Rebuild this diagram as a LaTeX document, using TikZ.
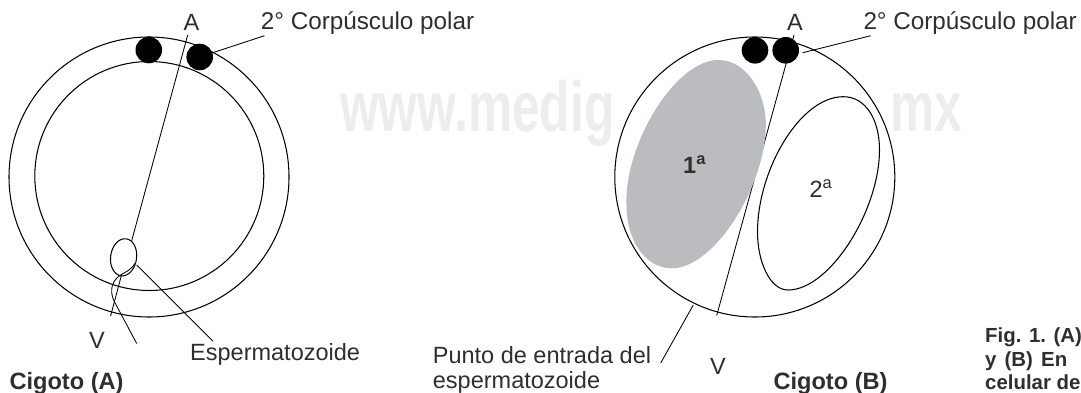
\documentclass[tikz,border=0pt]{standalone}
\usepackage{fontspec}
\setmainfont{Liberation Sans}
\definecolor{cellgray}{HTML}{BBBCBF}
\definecolor{inkgray}{HTML}{2E2E2E}
\tikzset{
  x=1pt,y=-1pt,
  outline/.style={draw=black,line width=1.05pt},
  wire/.style={draw=black,line width=0.85pt},
  polardot/.style={circle,fill=black,inner sep=0pt,minimum size=26.6pt},
  lab/.style={anchor=base west,inner sep=0pt,text=inkgray,font=\fontsize{23.5}{25}\selectfont},
  biglab/.style={lab,font=\fontsize{24.25}{26}\selectfont},
  boldlab/.style={anchor=base west,inner sep=0pt,text=inkgray,font=\bfseries\fontsize{23.6}{25}\selectfont},
  figlab/.style={anchor=base west,inner sep=0pt,text=inkgray,font=\bfseries\fontsize{20.4}{23}\selectfont},
  mark text/.style={anchor=base west,inner sep=0pt,text=black!7,font=\bfseries\fontsize{71}{71}\selectfont}
}
\begin{document}
\begin{tikzpicture}
\useasboundingbox (0,0) rectangle (1081,393);
% site lettering behind the drawings
\node[mark text] (wmA) at (340,131.7) {\scalebox{0.7}[1]{www.medig}};
\node[mark text] (wmB) at (890,131.7) {\scalebox{0.7}[1]{mx}};

% zygote A: membranes
\draw[outline,fill=white] (149,177) circle (140);
\draw[outline] (149.3,176) circle (114.5);
% zygote A: sperm head
\draw[outline,rotate around={-8:(123.6,257.3)}] (123.6,257.3) ellipse (13 and 18.7);
% zygote A: axis and tail
\coordinate (axA1) at (187.7,35);
\coordinate (axA2) at (131.7,240.7);
\coordinate (axA3) at (121.7,274.3);
\coordinate (axA4) at (110.6,316);
\draw[wire] (axA1) -- (axA2);
\draw[wire] (axA3) -- (axA4);
\coordinate (tailA) at (136.7,343.5);
\draw[wire] (135,263.3) .. controls (132,269) and (126,272) .. (axA3)
  .. controls (112,280) and (109,290) .. (114,301) -- (tailA);
\coordinate (headA) at (136.7,265);
\coordinate (espA) at (213,341.2);
\draw[wire] (headA) -- (espA);
% zygote A: polar bodies
\node[polardot] (p1A) at (148.8,50) {};
\node[polardot] (p2A) at (199.7,57) {};
\coordinate (plA) at (264.5,35.7);
\draw[wire] (p2A) -- (plA);

% zygote B: membrane
\draw[outline,fill=white] (754.8,177) circle (140);
% zygote B: axis
\coordinate (axB1) at (794,35);
\coordinate (axB2) at (716.7,315.5);
\draw[wire] (axB1) -- (axB2);
% zygote B: first blastomere
\fill[cellgray] (718.3,60) .. controls (745,60) and (765.8,90) .. (765.8,125)
  .. controls (765.8,185) and (715,268.3) .. (671.7,268.3)
  .. controls (645,268.3) and (626.5,240) .. (626.5,205)
  .. controls (624,145) and (675,60) .. (718.3,60) -- cycle;
% zygote B: second blastomere
\draw[outline] (843.3,96.7) .. controls (866,96.7) and (879.5,120) .. (879.5,150)
  .. controls (879.5,210) and (830,290) .. (788,290)
  .. controls (770,290) and (757.5,262) .. (757.5,232)
  .. controls (757.5,170) and (800,96.7) .. (843.3,96.7) -- cycle;
% zygote B: polar bodies
\node[polardot] (p1B) at (755,50.3) {};
\node[polardot] (p2B) at (785.7,50.3) {};
\coordinate (plB0) at (802.7,52.7);
\coordinate (plB) at (870.7,35.7);
\draw[wire] (plB0) -- (plB);
\coordinate (entry0) at (693.3,305);
\coordinate (entry1) at (660.7,363);
\draw[wire] (entry0) -- (entry1);

% labels
\node[lab] (aA) at (183.3,30.7) {A};
\node[biglab] (cpA) at (260.7,29.3) {2° Corpúsculo polar};
\node[lab] (vA) at (89,348.3) {V};
\node[lab] (esp) at (190,360.7) {Espermatozoide};
\node[boldlab] (cigA) at (9.3,389.3) {Cigoto (A)};
\node[lab] (pe1) at (432.7,363.3) {Punto de entrada del};
\node[lab] (pe2) at (432.7,388.5) {espermatozoide};
\node[lab] (aB) at (787,30.7) {A};
\node[biglab] (cpB) at (863.3,29.3) {2° Corpúsculo polar};
\node[lab] (vB) at (710,374) {V};
\node[boldlab] (cigB) at (773.3,389) {Cigoto (B)};
\node[lab,font=\bfseries\fontsize{23.5}{25}\selectfont] (one) at (683,173.3) {1\textsuperscript{a}};
\node[lab] (two) at (809.3,197.3) {2\textsuperscript{a}};
\node[figlab] (f1) at (985,342.7) {Fig. 1. (A)};
\node[figlab] (f2) at (985,366.5) {y\hspace{0.4em}(B)\hspace{0.4em}En};
\node[figlab] (f3) at (985,389) {celular de};
\end{tikzpicture}
\end{document}
